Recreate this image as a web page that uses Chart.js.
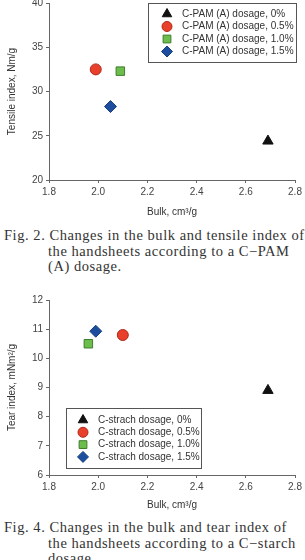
<!DOCTYPE html>
<html>
<head>
<meta charset="utf-8">
<script src="https://cdn.jsdelivr.net/npm/chart.js@4.4.0/dist/chart.umd.min.js"></script>
<style>
  body { margin: 0; background: #fff; width: 305px; height: 560px; position: relative; overflow: hidden; }
  .box { position: absolute; left: 0; width: 305px; }
  .cap { position: absolute; left: 4px; width: 301px; font-family: "Liberation Serif", "DejaVu Serif", serif;
         font-size: 14.5px; line-height: 15.5px; letter-spacing: 0.55px; color: #333; white-space: nowrap; }
  .cap span { display: block; padding-left: 44px; }
  .cap span.first { padding-left: 0; }
</style>
</head>
<body>
<div class="box" style="top:-6px;height:228px"><canvas id="c1" width="305" height="228"></canvas></div>
<div class="cap" style="top:228px">
  <span class="first">Fig. 2. Changes in the bulk and tensile index of</span>
  <span>the handsheets according to a C&minus;PAM</span>
  <span>(A) dosage.</span>
</div>
<div class="box" style="top:290px;height:225px"><canvas id="c2" width="305" height="225"></canvas></div>
<div class="cap" style="top:520px">
  <span class="first">Fig. 4. Changes in the bulk and tear index of</span>
  <span>the handsheets according to a C&minus;starch</span>
  <span>dosage.</span>
</div>
<script>
// chart 1: bulk vs tensile index
const pamLabels = ["C-PAM (A) dosage, 0%", "C-PAM (A) dosage, 0.5%", "C-PAM (A) dosage, 1.0%", "C-PAM (A) dosage, 1.5%"];
const pamBulk = [2.69, 1.99, 2.09, 2.05];
const pamTensile = [24.4, 32.5, 32.3, 28.3];

// chart 2: bulk vs tear index
const starchLabels = ["C-strach dosage, 0%", "C-strach dosage, 0.5%", "C-strach dosage, 1.0%", "C-strach dosage, 1.5%"];
const starchBulk = [2.69, 2.10, 1.96, 1.99];
const starchTear = [8.9, 10.8, 10.5, 10.93];

const styles = [
  { pointStyle: "triangle", radius: 6, bg: "#111111", border: "#111111" },
  { pointStyle: "circle", radius: 5.5, bg: "#e8402a", border: "#b0281a" },
  { pointStyle: "rect", radius: 6, bg: "#6cbd4c", border: "#3f7d2e" },
  { pointStyle: "rectRot", radius: 6, bg: "#1d4e9e", border: "#173e7e" }
];

const FONT = "'Liberation Sans', Arial, sans-serif";

function makeSets(labels, xs, ys) {
  return labels.map((lab, i) => ({
    label: lab,
    data: [{ x: xs[i], y: ys[i] }],
    pointStyle: styles[i].pointStyle,
    pointRadius: styles[i].radius,
    pointHoverRadius: styles[i].radius,
    backgroundColor: styles[i].bg,
    borderColor: styles[i].border,
    pointBorderWidth: 1
  }));
}

// legend box drawn inside the plot
const boxLegend = {
  id: "boxLegend",
  afterDatasetsDraw(chart, args, opts) {
    const ctx = chart.ctx;
    ctx.save();
    ctx.fillStyle = "#fff";
    ctx.fillRect(opts.x, opts.y, opts.w, opts.h);
    ctx.strokeStyle = "#555";
    ctx.lineWidth = 1;
    ctx.strokeRect(opts.x + 0.5, opts.y + 0.5, opts.w, opts.h);
    ctx.font = "10px " + FONT;
    ctx.textBaseline = "middle";
    chart.data.datasets.forEach((ds, i) => {
      const y = opts.y + opts.first + i * opts.step;
      ctx.fillStyle = ds.backgroundColor;
      ctx.strokeStyle = ds.borderColor;
      ctx.lineWidth = 1;
      Chart.helpers.drawPoint(ctx, { pointStyle: ds.pointStyle, radius: ds.pointRadius - 0.5, borderWidth: 1 }, opts.x + opts.mx, y);
      ctx.fillStyle = "#333";
      ctx.fillText(ds.label, opts.x + opts.tx, y);
    });
    ctx.restore();
  }
};

function makeChart(id, sets, yMin, yMax, yStep, yTitle, legend, xH, yTop) {
  return new Chart(document.getElementById(id), {
    type: "scatter",
    data: { datasets: sets },
    plugins: [boxLegend],
    options: {
      responsive: false,
      animation: false,
      events: [],
      layout: { padding: { top: yTop, right: 10, left: 0, bottom: 0 } },
      plugins: { legend: { display: false }, tooltip: { enabled: false }, boxLegend: legend },
      scales: {
        x: {
          type: "linear", min: 1.8, max: 2.8,
          afterFit: s => { s.height = xH; },
          ticks: { stepSize: 0.2, callback: v => v.toFixed(1), color: "#444", font: { family: FONT, size: 10 }, padding: 3, maxRotation: 0 },
          grid: { drawOnChartArea: false, tickLength: 3, color: "#666" },
          border: { color: "#666" },
          title: { display: true, text: "Bulk, cm\u00b3/g", color: "#333", font: { family: FONT, size: 10 }, padding: { top: 4, bottom: 4 } }
        },
        y: {
          min: yMin, max: yMax,
          afterFit: s => { s.width = 49; },
          ticks: { stepSize: yStep, color: "#444", font: { family: FONT, size: 10 }, padding: 3 },
          grid: { drawOnChartArea: false, tickLength: 3, color: "#666" },
          border: { color: "#666" },
          title: { display: true, text: yTitle, color: "#333", font: { family: FONT, size: 10 }, padding: { top: 6, bottom: 2 } }
        }
      }
    }
  });
}

makeChart("c1", makeSets(pamLabels, pamBulk, pamTensile), 20, 40, 5, "Tensile index, Nm/g",
  { x: 148, y: 9, w: 148, h: 59, first: 11, step: 12.5, mx: 19, tx: 34 }, 42, 3);
makeChart("c2", makeSets(starchLabels, starchBulk, starchTear), 6, 12, 1, "Tear index, mNm\u00b2/g",
  { x: 66, y: 118, w: 135, h: 60, first: 12, step: 12.3, mx: 17, tx: 32 }, 40, 10);
</script>
</body>
</html>
